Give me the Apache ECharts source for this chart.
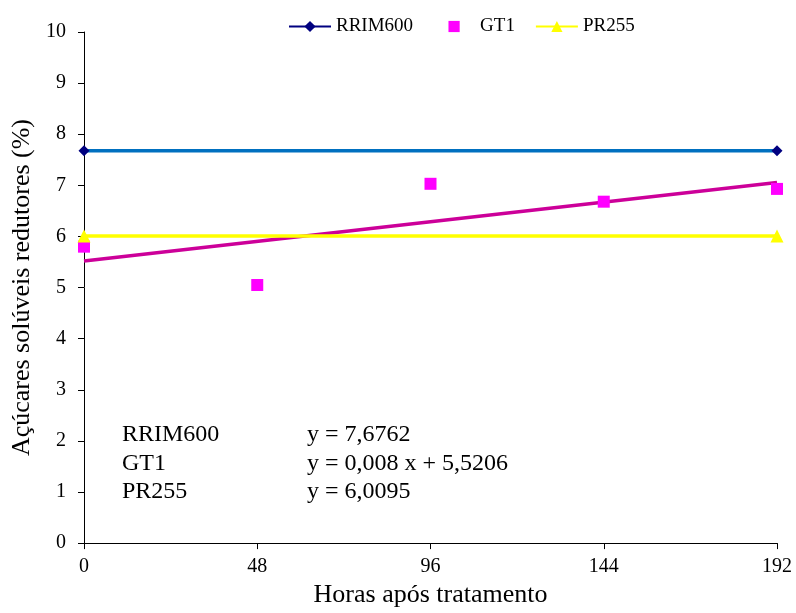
<!DOCTYPE html>
<html>
<head>
<meta charset="utf-8">
<script src="https://cdn.jsdelivr.net/npm/echarts@6/dist/echarts.min.js"></script>
<style>
  html, body { margin: 0; padding: 0; background: #fff; overflow: hidden; }
  #chart { width: 796px; height: 613px; }
</style>
</head>
<body>
<div id="chart"></div>
<script>
// Hours after treatment (x axis)
const hours = [0, 48, 96, 144, 192];

// Measured reducing soluble sugars (%)
const rrim600Hours = [0, 192];
const rrim600Values = [7.6762, 7.6762];
const gt1Values = [5.80, 5.05, 7.03, 6.68, 6.93];
const pr255Hours = [0, 192];
const pr255Values = [6.0095, 6.0095];

// Fitted trend lines: y = slope * x + intercept
const clones = ['RRIM600', 'GT1', 'PR255'];
const slopes = [0, 0.008, 0];
const intercepts = [7.6762, 5.5206, 6.0095];
const equationTexts = ['y = 7,6762', 'y = 0,008 x + 5,5206', 'y = 6,0095'];

const serif = '"Liberation Serif", "Times New Roman", serif';

function pairs(xs, ys) { return xs.map((x, i) => [x, ys[i]]); }
function trend(i) {
  const x0 = hours[0], x1 = hours[hours.length - 1];
  return [[x0, slopes[i] * x0 + intercepts[i]], [x1, slopes[i] * x1 + intercepts[i]]];
}

const trendColors = ['#0070C0', '#CC0099', '#FFFF00'];

const chart = echarts.init(document.getElementById('chart'), null, {
  renderer: 'canvas', width: 796, height: 613
});

// Equation block inside the plot area
const graphics = [];
clones.forEach((name, i) => {
  const y = 435 + i * 28.5;
  graphics.push({
    type: 'text', left: 122, top: y - 12, z: 100,
    style: { text: name, font: '24px ' + serif, fill: '#000' }
  });
  graphics.push({
    type: 'text', left: 307, top: y - 12, z: 100,
    style: { text: equationTexts[i], font: '24px ' + serif, fill: '#000' }
  });
});

chart.setOption({
  animation: false,
  backgroundColor: '#fff',
  grid: { left: 84, right: 19, top: 32, bottom: 64 },
  legend: {
    top: 12,
    left: 283,
    itemWidth: 42,
    itemHeight: 14,
    itemGap: 20,
    textStyle: { fontFamily: serif, fontSize: 19, color: '#000' },
    data: [
      {
        name: 'RRIM600',
        lineStyle: { color: '#000080', width: 2, opacity: 1 },
        textStyle: { padding: [0, 5, 0, 0] }
      },
      { name: 'GT1', lineStyle: { opacity: 0, width: 0 } },
      { name: 'PR255', lineStyle: { color: '#FFFF00', width: 2, opacity: 1 } }
    ]
  },
  xAxis: {
    type: 'value',
    min: 0, max: 192, interval: 48,
    name: 'Horas após tratamento',
    nameLocation: 'middle',
    nameGap: 38,
    nameTextStyle: { fontFamily: serif, fontSize: 26, color: '#000' },
    axisLine: { show: true, lineStyle: { color: '#000', width: 1 } },
    axisTick: { show: true, length: 6, inside: false, lineStyle: { color: '#000' } },
    axisLabel: { fontFamily: serif, fontSize: 20, color: '#000', margin: 14 },
    splitLine: { show: false }
  },
  yAxis: {
    type: 'value',
    min: 0, max: 10, interval: 1,
    name: 'Açúcares solúveis redutores (%)',
    nameLocation: 'middle',
    nameGap: 44,
    nameRotate: 90,
    nameTextStyle: { fontFamily: serif, fontSize: 26, color: '#000' },
    axisLine: { show: true, lineStyle: { color: '#000', width: 1 } },
    axisTick: { show: true, length: 6, inside: false, lineStyle: { color: '#000' } },
    axisLabel: { fontFamily: serif, fontSize: 20, color: '#000', margin: 18 },
    splitLine: { show: false }
  },
  graphic: graphics,
  series: [
    // trend lines
    {
      name: 'RRIM600 trend', type: 'line', data: trend(0), symbol: 'none', silent: true,
      lineStyle: { color: trendColors[0], width: 3.5 }, z: 2
    },
    {
      name: 'GT1 trend', type: 'line', data: trend(1), symbol: 'none', silent: true,
      lineStyle: { color: trendColors[1], width: 3.5 }, z: 2
    },
    {
      name: 'PR255 trend', type: 'line', data: trend(2), symbol: 'none', silent: true,
      lineStyle: { color: trendColors[2], width: 3.5 }, z: 2
    },
    // measured points
    {
      name: 'RRIM600', type: 'line', data: pairs(rrim600Hours, rrim600Values),
      symbol: 'diamond', symbolSize: 11,
      itemStyle: { color: '#000080' },
      lineStyle: { width: 0, opacity: 0, color: '#000080' }, z: 3
    },
    {
      name: 'GT1', type: 'line', data: pairs(hours, gt1Values),
      symbol: 'rect', symbolSize: 12,
      itemStyle: { color: '#FF00FF' },
      lineStyle: { width: 0, opacity: 0 }, z: 3
    },
    {
      name: 'PR255', type: 'line', data: pairs(pr255Hours, pr255Values),
      symbol: 'triangle', symbolSize: 13,
      itemStyle: { color: '#FFFF00' },
      lineStyle: { width: 0, opacity: 0, color: '#FFFF00' }, z: 3
    }
  ]
});
</script>
</body>
</html>
